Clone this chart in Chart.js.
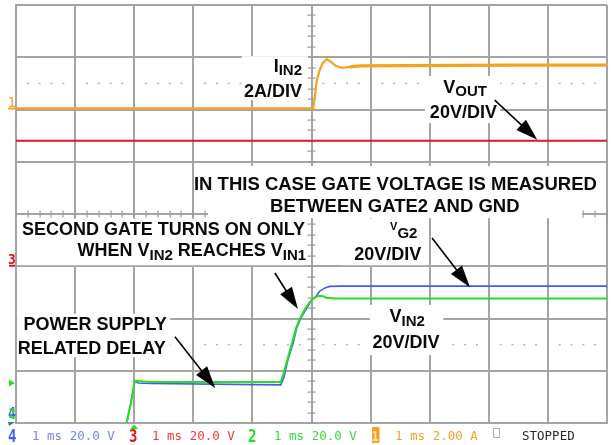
<!DOCTYPE html>
<html><head><meta charset="utf-8">
<script src="https://cdn.jsdelivr.net/npm/chart.js@4/dist/chart.umd.min.js"></script>
<style>html,body{margin:0;padding:0;background:#fff;}canvas{display:block;}</style>
</head><body>
<canvas id="c" width="611" height="445"></canvas>
<script>
// ---------------- data ----------------
// time axis: 1 ms/div, 10 divisions; vertical: 8 divisions
const timeStartMs = 0, timeEndMs = 10, divisionsY = 8;

// channel 1: I_IN2 (A), 2 A/div, ground at division 6
const iin2Time = [0, 5.03, 5.06, 5.09, 5.14, 5.19, 5.26, 5.33, 5.41, 5.52, 5.65, 5.82, 6.50, 7.50, 8.50, 10];
const iin2Amps = [0.04, 0.04, 0.56, 1.13, 1.51, 1.78, 1.93, 1.82, 1.67, 1.59, 1.63, 1.67, 1.68, 1.69, 1.70, 1.70];
// channel 3: V_OUT (V), 20 V/div, ground at division 3
const voutTime = [0, 10];
const voutVolts = [48, 48];
// channel 2: V_IN2 (V), 20 V/div, ground at division 0
const vin2Time = [1.83, 1.88, 1.95, 2.01, 2.06, 2.27, 4.48, 4.52, 4.59, 4.67, 4.74, 4.81, 4.89, 4.97, 5.04, 5.11, 5.19, 5.25, 5.40, 10];
const vin2Volts = [-2, 0.8, 8.4, 16.1, 16.1, 15.7, 15.7, 18.4, 24.1, 30.6, 36.4, 40.2, 43.6, 46.3, 47.9, 48.6, 48.6, 47.9, 47.7, 47.7];
// channel 4: V_G2 (V), 20 V/div, ground at division 0
const vg2Time = [1.83, 1.88, 1.95, 2.01, 2.06, 2.27, 4.48, 4.53, 4.60, 4.69, 4.75, 4.82, 4.91, 4.99, 5.08, 5.14, 5.23, 5.31, 5.48, 10];
const vg2Volts = [-2, 0.8, 8.4, 16.1, 15.3, 15.1, 14.6, 17.2, 24.1, 30.6, 36.4, 40.2, 43.6, 46.7, 48.6, 50.5, 51.7, 52.3, 52.4, 52.4];

// channel settings (per division and ground position in divisions)
const chNumbers   = ['1', '2', '3', '4'];
const chPerDiv    = [2, 20, 20, 20];
const chGroundDiv = [6, 0, 3, 0];
const chUnitText  = ['2.00 A', '20.0 V', '20.0 V', '20.0 V'];
const timebaseText = '1 ms';
const trigTimeMs = 2, trigLevelV = 15.3; // trigger on channel 2

// ---------------- styles ----------------
const gridColor = '#a4a4a4';
const colOrange = '#f5a21f', colRed = '#e3161b', colGreen = '#22e21e', colBlue = '#4a58f2';
const fontSans = '"Liberation Sans", Arial, sans-serif';
const fontMono = '"DejaVu Sans Mono", "Liberation Mono", monospace';

function toDiv(t, v, ch) { return t.map((x, i) => ({ x: x, y: chGroundDiv[ch] + v[i] / chPerDiv[ch] })); }

// annotations (positions in divisions: x = ms, y = divisions from bottom)
const notes = [
  { box: [3.25, 9.58, 3.92, 4.92], texts: [
    { segs: [['IN THIS CASE GATE VOLTAGE IS MEASURED', 18.5, 0]], x: 6.42, y: 4.46, align: 'center' },
    { segs: [['BETWEEN GATE2 AND GND', 18.5, 0]], x: 6.41, y: 4.04, align: 'center' } ] },
  { box: [0.03, 4.92, 3.02, 3.91], texts: [
    { segs: [['SECOND GATE TURNS ON ONLY', 18, 0]], x: 4.89, y: 3.60, align: 'right' },
    { segs: [['WHEN V', 18, 0], ['IN2', 15, 4], [' REACHES V', 18, 0], ['IN1', 15, 4]], x: 4.91, y: 3.20, align: 'right' } ] },
  { box: [5.48, 6.97, 3.02, 3.91], texts: [
    { segs: [['V', 11, -8], ['G2', 15, 0]], x: 6.33, y: 3.54, align: 'left' },
    { segs: [['20V/DIV', 18, 0]], x: 6.29, y: 3.12, align: 'center' } ] },
  { box: [5.99, 7.23, 1.30, 2.26], texts: [
    { segs: [['V', 18, 0], ['IN2', 15, 4]], x: 6.62, y: 1.93, align: 'center' },
    { segs: [['20V/DIV', 18, 0]], x: 6.60, y: 1.44, align: 'center' } ] },
  { box: [0.02, 2.61, 1.26, 2.09], texts: [
    { segs: [['POWER SUPPLY', 18, 0]], x: 1.34, y: 1.78, align: 'center' },
    { segs: [['RELATED DELAY', 18, 0]], x: 1.28, y: 1.32, align: 'center' } ] },
  { box: [3.82, 4.94, 6.18, 7.02], texts: [
    { segs: [['I', 18, 0], ['IN2', 15, 3]], x: 4.84, y: 6.72, align: 'right' },
    { segs: [['2A/DIV', 18, 0]], x: 4.84, y: 6.24, align: 'right' } ] },
  { box: [6.92, 8.19, 5.74, 6.64], texts: [
    { segs: [['V', 18, 0], ['OUT', 15, 3]], x: 7.60, y: 6.32, align: 'center' },
    { segs: [['20V/DIV', 18, 0]], x: 7.57, y: 5.84, align: 'center' } ] }
];
const arrows = [
  [8.10, 6.18, 8.82, 5.42],
  [7.04, 3.54, 7.68, 2.60],
  [4.38, 2.87, 4.77, 2.18],
  [2.69, 1.65, 3.37, 0.67]
];

function drawRich(ctx, segs, x, y, align) {
  let w = 0;
  segs.forEach(s => { ctx.font = 'bold ' + s[1] + 'px ' + fontSans; w += ctx.measureText(s[0]).width; });
  let cx = align === 'right' ? x - w : (align === 'center' ? x - w / 2 : x);
  segs.forEach(s => {
    ctx.font = 'bold ' + s[1] + 'px ' + fontSans;
    ctx.fillText(s[0], cx, y + s[2]);
    cx += ctx.measureText(s[0]).width;
  });
}
function drawArrow(ctx, x0, y0, x1, y1) {
  const a = Math.atan2(y1 - y0, x1 - x0), L = 22, W = 7;
  const bx = x1 - L * Math.cos(a), by = y1 - L * Math.sin(a);
  ctx.strokeStyle = '#000'; ctx.fillStyle = '#000'; ctx.lineWidth = 1.6;
  ctx.beginPath(); ctx.moveTo(x0, y0); ctx.lineTo(bx + 2 * Math.cos(a), by + 2 * Math.sin(a)); ctx.stroke();
  ctx.beginPath(); ctx.moveTo(x1, y1);
  ctx.lineTo(bx - W * Math.sin(a), by + W * Math.cos(a));
  ctx.lineTo(bx + W * Math.sin(a), by - W * Math.cos(a));
  ctx.closePath(); ctx.fill();
}
function monoText(ctx, text, x, y, size, color, bold, sy) {
  ctx.save();
  ctx.translate(x, y); ctx.scale(1, sy || 1);
  ctx.font = (bold ? 'bold ' : '') + size + 'px ' + fontMono;
  ctx.fillStyle = color; ctx.textAlign = 'left'; ctx.textBaseline = 'alphabetic';
  ctx.fillText(text, 0, 0);
  ctx.restore();
}

const scopePlugin = {
  id: 'scope',
  beforeDatasetsDraw(chart) {
    const ctx = chart.ctx, X = chart.scales.x, Y = chart.scales.y;
    ctx.save();
    // graticule centre-line ticks
    ctx.fillStyle = '#9a9a9a';
    const cx = X.getPixelForValue((timeStartMs + timeEndMs) / 2), cy = Y.getPixelForValue(divisionsY / 2);
    for (let k = 0; k <= divisionsY * 5; k++) { const py = Y.getPixelForValue(k * 0.2); ctx.fillRect(cx - 4, Math.round(py) - 0.5, 8, 1.2); }
    for (let k = 0; k <= 50; k++) { const px = X.getPixelForValue(k * 0.2); ctx.fillRect(Math.round(px) - 0.5, cy - 3.5, 1.2, 7); }
    // dotted level lines
    ctx.fillStyle = '#b4b4b4';
    [6.5, 1.5].forEach(d => {
      const py = Y.getPixelForValue(d);
      for (let k = 1; k < 50; k++) { if (k % 5 === 0) continue; const px = X.getPixelForValue(k * 0.2); ctx.fillRect(px - 1, py - 0.7, 2, 1.5); }
    });
    // white label boxes
    ctx.fillStyle = '#ffffff';
    notes.forEach(n => {
      const x0 = X.getPixelForValue(n.box[0]), x1 = X.getPixelForValue(n.box[1]);
      const y0 = Y.getPixelForValue(n.box[3]), y1 = Y.getPixelForValue(n.box[2]);
      ctx.fillRect(x0, y0, x1 - x0, y1 - y0);
    });
    ctx.restore();
  },
  afterDatasetsDraw(chart) {
    const ctx = chart.ctx, X = chart.scales.x, Y = chart.scales.y;
    ctx.save();
    ctx.fillStyle = '#0a0a0a'; ctx.textAlign = 'left'; ctx.textBaseline = 'alphabetic';
    notes.forEach(n => n.texts.forEach(t => {
      ctx.fillStyle = '#0a0a0a';
      drawRich(ctx, t.segs, X.getPixelForValue(t.x), Y.getPixelForValue(t.y), t.align);
    }));
    arrows.forEach(a => drawArrow(ctx, X.getPixelForValue(a[0]), Y.getPixelForValue(a[1]), X.getPixelForValue(a[2]), Y.getPixelForValue(a[3])));
    ctx.restore();
  },
  afterDraw(chart) {
    const ctx = chart.ctx, X = chart.scales.x, Y = chart.scales.y, area = chart.chartArea;
    ctx.save();
    // channel 1 marker
    let gy = Y.getPixelForValue(chGroundDiv[0]);
    monoText(ctx, chNumbers[0], 7.5, gy - 3, 14, colOrange, false, 1.05);
    ctx.fillStyle = colOrange; ctx.fillRect(8, gy - 2, 8, 2);
    // channel 3 marker
    gy = Y.getPixelForValue(chGroundDiv[2]);
    monoText(ctx, chNumbers[2], 8, gy - 2, 13, colRed, true, 1.05);
    ctx.fillStyle = colRed; ctx.fillRect(9, gy - 1.5, 6, 2);
    // trigger level marker (channel 2)
    const ty = Y.getPixelForValue(chGroundDiv[1] + trigLevelV / chPerDiv[1]);
    ctx.fillStyle = colGreen; ctx.beginPath(); ctx.moveTo(9, ty - 3.5); ctx.lineTo(15, ty); ctx.lineTo(9, ty + 3.5); ctx.closePath(); ctx.fill();
    // channel 4 / 2 ground markers (overlapping)
    gy = Y.getPixelForValue(chGroundDiv[3]);
    monoText(ctx, chNumbers[3], 8, gy - 4, 13, colBlue, true, 1.15);
    monoText(ctx, chNumbers[1], 8.5, gy - 5, 12, colGreen, true, 1.1);
    ctx.fillStyle = '#2b8a72'; ctx.beginPath(); ctx.moveTo(8, gy - 1); ctx.lineTo(15, gy - 1); ctx.lineTo(9, gy + 3); ctx.closePath(); ctx.fill();
    // trigger time marker
    const tx = X.getPixelForValue(trigTimeMs);
    ctx.fillStyle = colGreen; ctx.beginPath(); ctx.moveTo(tx - 4, area.bottom + 6); ctx.lineTo(tx + 4, area.bottom + 6); ctx.lineTo(tx, area.bottom + 1.5); ctx.closePath(); ctx.fill();
    // status line
    const base = 441;
    monoText(ctx, chNumbers[3], 8, base + 1, 14, colBlue, true, 1.2);
    monoText(ctx, timebaseText + ' ' + chUnitText[3], 32, base - 1, 12.5, '#7b85ef', false, 1.05);
    monoText(ctx, chNumbers[2], 129, base + 1, 14, colRed, true, 1.2);
    monoText(ctx, timebaseText + ' ' + chUnitText[2], 152, base - 1, 12.5, '#f03a3a', false, 1.05);
    monoText(ctx, chNumbers[1], 248, base + 1, 14, colGreen, true, 1.2);
    monoText(ctx, timebaseText + ' ' + chUnitText[1], 274, base - 1, 12.5, '#36de36', false, 1.05);
    ctx.fillStyle = colOrange; ctx.fillRect(372, 427, 7.5, 16);
    monoText(ctx, chNumbers[0], 371.5, base, 12, '#ffe2b0', true, 1.15);
    monoText(ctx, timebaseText + ' ' + chUnitText[0], 395, base - 1, 12.5, colOrange, false, 1.05);
    ctx.strokeStyle = '#b0b0b0'; ctx.lineWidth = 1; ctx.strokeRect(493.5, 428.5, 6, 9);
    monoText(ctx, 'STOPPED', 522, base - 1, 12.5, '#2a2a2a', false, 1.05);
    ctx.restore();
  }
};

const line = (data, color, width, order) => ({ data, borderColor: color, borderWidth: width, pointRadius: 0, showLine: true, fill: false, tension: 0, order });

const iin2Set = line(toDiv(iin2Time, iin2Amps, 0), colOrange, 2.2, 3);
iin2Set.segment = { borderWidth: c => (c.p0.parsed.x >= 5.6 ? 3.2 : 2.2) };

new Chart(document.getElementById('c'), {
  type: 'scatter',
  data: { datasets: [
    iin2Set,
    line(toDiv(voutTime, voutVolts, 2), colRed, 2, 2),
    line(toDiv(vg2Time, vg2Volts, 3), colBlue, 1.6, 1),
    line(toDiv(vin2Time, vin2Volts, 1), colGreen, 2, 0)
  ] },
  options: {
    responsive: false, animation: false, devicePixelRatio: 1,
    layout: { padding: { left: 16, right: 4, top: 5, bottom: 22 } },
    plugins: { legend: { display: false }, tooltip: { enabled: false } },
    scales: {
      x: { type: 'linear', min: timeStartMs, max: timeEndMs,
           ticks: { display: false, stepSize: 1 },
           grid: { color: gridColor, lineWidth: 2, drawTicks: false },
           border: { color: gridColor, width: 2 } },
      y: { type: 'linear', min: 0, max: divisionsY,
           ticks: { display: false, stepSize: 1 },
           grid: { color: gridColor, lineWidth: 2, drawTicks: false },
           border: { color: gridColor, width: 2 } }
    }
  },
  plugins: [scopePlugin]
});
</script>
</body></html>
